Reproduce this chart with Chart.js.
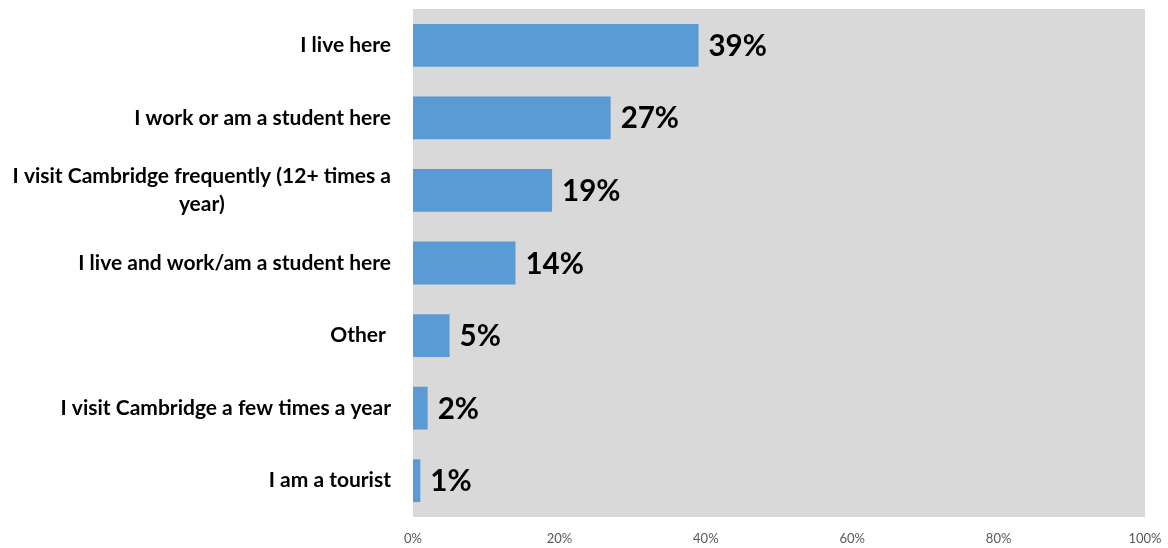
<!DOCTYPE html>
<html>
<head>
<meta charset="utf-8">
<script src="https://cdn.jsdelivr.net/npm/chart.js@4/dist/chart.umd.min.js"></script>
<style>
html,body{margin:0;padding:0;background:#fff;}
#wrap{width:1168px;height:548px;position:relative;}
</style>
</head>
<body>
<div id="wrap"><canvas id="c" width="1168" height="548"></canvas></div>
<script>
const categories = [
  "I live here",
  "I work or am a student here",
  ["I visit Cambridge frequently (12+ times a", "year)"],
  "I live and work/am a student here",
  "Other ",
  "I visit Cambridge a few times a year",
  "I am a tourist"
];
const values = [39, 27, 19, 14, 5, 2, 1];
const valueLabels = ["39%", "27%", "19%", "14%", "5%", "2%", "1%"];
const xTicks = [0, 20, 40, 60, 80, 100];

const bgPlugin = {
  id: 'plotBg',
  beforeDraw(chart) {
    const a = chart.chartArea, ctx = chart.ctx;
    ctx.save();
    ctx.fillStyle = '#D9D9D9';
    ctx.fillRect(a.left, a.top, a.right - a.left, a.bottom - a.top);
    ctx.restore();
  }
};
const labelPlugin = {
  id: 'valLabels',
  afterDatasetsDraw(chart) {
    const ctx = chart.ctx;
    const meta = chart.getDatasetMeta(0);
    ctx.save();
    ctx.font = 'bold 29.5px Lato';
    ctx.fillStyle = '#000';
    ctx.textAlign = 'left';
    ctx.textBaseline = 'middle';
    meta.data.forEach((el, i) => {
      ctx.fillText(valueLabels[i], el.x + 10, el.y + 1);
    });
    ctx.restore();
  }
};
// category labels: block right-aligned, lines centered within block (as in the reference)
const catPlugin = {
  id: 'catLabels',
  afterDraw(chart) {
    const ctx = chart.ctx;
    const ys = chart.scales.y;
    const rightEdge = ys.right - 22;
    const lineH = 28;
    ctx.save();
    ctx.font = 'bold 21px Lato';
    ctx.fillStyle = '#000';
    ctx.textBaseline = 'middle';
    ctx.textAlign = 'center';
    categories.forEach((lab, i) => {
      const lines = Array.isArray(lab) ? lab : [lab];
      const w = Math.max(...lines.map(l => ctx.measureText(l).width));
      const cx = rightEdge - w / 2;
      const cy = ys.getPixelForValue(i);
      const y0 = cy - (lines.length - 1) * lineH / 2;
      lines.forEach((l, k) => ctx.fillText(l, cx, y0 + k * lineH));
    });
    ctx.restore();
  }
};

new Chart(document.getElementById('c'), {
  type: 'bar',
  data: {
    labels: categories,
    datasets: [{
      data: values,
      backgroundColor: '#5B9BD5',
      borderWidth: 0,
      categoryPercentage: 0.59,
      barPercentage: 1.0
    }]
  },
  options: {
    indexAxis: 'y',
    responsive: false,
    animation: false,
    layout: { padding: { top: 9, right: 23, left: 0, bottom: 0 } },
    plugins: { legend: { display: false }, tooltip: { enabled: false } },
    scales: {
      x: {
        min: 0, max: 100,
        afterBuildTicks(scale) { scale.ticks = xTicks.map(v => ({ value: v })); },
        grid: { display: false, drawTicks: false },
        border: { display: false },
        ticks: {
          callback: v => v + '%',
          color: '#595959',
          font: { family: 'Lato', size: 13 },
          padding: 14,
          maxRotation: 0
        },
        afterFit(scale) {
          scale.height = 31;
          scale.paddingLeft = 0; scale.paddingRight = 0;
        }
      },
      y: {
        grid: { display: false, drawTicks: false },
        border: { display: false },
        ticks: { display: false },
        afterFit(scale) {
          scale.width = 413;
          scale.paddingTop = 0; scale.paddingBottom = 0;
        }
      }
    }
  },
  plugins: [bgPlugin, labelPlugin, catPlugin]
});
</script>
</body>
</html>
